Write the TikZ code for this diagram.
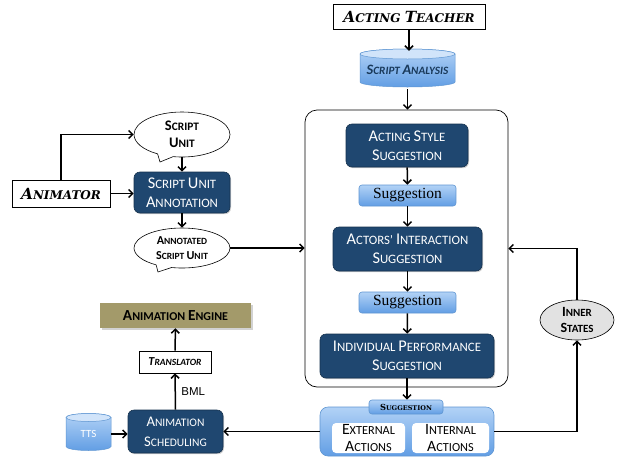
\documentclass[tikz,border=0pt]{standalone}
\usepackage{fontspec}
\usepackage{graphicx}
\setmainfont{Carlito}
\newfontfamily\heavyserif{DejaVu Serif}
\newfontfamily\sugfont{Liberation Serif}
\newfontfamily\arialfont{Liberation Sans}
\usetikzlibrary{arrows.meta,shapes.callouts,shapes.geometric,shadows,calc}
\newcommand\B[1]{\scalebox{1.28}{#1}}
\definecolor{navy}{RGB}{31,71,112}
\definecolor{lbtop}{RGB}{178,210,246}
\definecolor{lbbot}{RGB}{98,158,228}
\definecolor{lbdraw}{RGB}{95,150,210}
\definecolor{olivebox}{RGB}{163,154,106}
\definecolor{innergray}{RGB}{226,226,226}
\newcommand\cylshape[5]{%
  \shade[top color=lbtop, bottom color=lbbot, draw=lbdraw, line width=0.5pt]
    ({#1-#3},{#2-#4}) -- ({#1-#3},{#2+#4})
    arc[start angle=180, end angle=360, x radius=#3pt, y radius=#5pt]
    -- ({#1+#3},{#2-#4})
    arc[start angle=0, end angle=180, x radius=#3pt, y radius=#5pt] -- cycle;
  \draw[lbdraw, line width=0.5pt, fill=lbtop!60!white]
    ({#1-#3},{#2-#4})
    arc[start angle=180, end angle=360, x radius=#3pt, y radius=#5pt]
    arc[start angle=0, end angle=180, x radius=#3pt, y radius=#5pt];
}
\tikzset{
  arr/.style={-{Straight Barb[length=4pt,width=8pt]}, line width=1.5pt},
  navybox/.style={draw=navy!70!black, line width=0.6pt, fill=navy, rounded corners=6pt,
    text=white, align=center, inner sep=0pt, font=\fontsize{12.8}{19}\selectfont,
    drop shadow={opacity=0.35, shadow xshift=1pt, shadow yshift=-1.2pt}},
  lightbox/.style={draw=lbdraw, line width=0.6pt, top color=lbtop, bottom color=lbbot,
    rounded corners=3pt, inner sep=0pt},
  sugbox/.style={lightbox, minimum width=97pt, minimum height=21pt,
    font=\sugfont\fontsize{15.5}{17}\selectfont},
  heavybox/.style={draw, line width=0.6pt, fill=white, inner sep=0pt,
    font=\heavyserif\bfseries\itshape\fontsize{12}{14}\selectfont},
  bubble/.style={ellipse callout, draw, line width=0.6pt, fill=white, align=center,
    inner sep=0pt, callout pointer arc=20},
  whitebox/.style={fill=white, rounded corners=4pt, inner sep=0pt, align=center,
    font=\fontsize{12.3}{17}\selectfont}
}
\begin{document}
\begin{tikzpicture}[x=1pt,y=-1pt]
\fill[white] (0,0) rectangle (618,461);
\useasboundingbox (0,0) rectangle (618,461);

% frame
\node[draw, line width=0.7pt, rounded corners=12pt, minimum width=203pt, minimum height=277pt, inner sep=0pt] (frame) at (406.5,248.5) {};

% top
\node[heavybox, minimum width=152pt, minimum height=25pt] (teacher) at (409,16.5) {\B{A}CTING \B{T}EACHER};
\cylshape{407.5}{68}{47.5}{14}{5}
\node[minimum width=95pt, minimum height=38pt, inner sep=0pt, text=navy!80!black,
  font=\bfseries\itshape\fontsize{11.2}{13}\selectfont] (sa) at (407.5,70) {\B{S}CRIPT \B{A}NALYSIS};

% inside frame
\node[navybox, minimum width=122pt, minimum height=43pt] (style) at (407,145.5) {\B{A}CTING \B{S}TYLE\\\B{S}UGGESTION};
\node[sugbox] (sug1) at (407.5,195.5) {Suggestion};
\node[navybox, minimum width=149pt, minimum height=44pt] (inter) at (407.5,249) {\B{A}CTORS' \B{I}NTERACTION\\\B{S}UGGESTION};
\node[sugbox] (sug2) at (407.5,302.5) {Suggestion};
\node[navybox, minimum width=174pt, minimum height=44pt] (indiv) at (407,356) {\B{I}NDIVIDUAL \B{P}ERFORMANCE\\\B{S}UGGESTION};

% bottom suggestion group
\node[lightbox, rounded corners=8pt, minimum width=174pt, minimum height=49pt] (grp) at (407,431.5) {};
\node[lightbox, minimum width=74pt, minimum height=14pt,
  font=\heavyserif\bfseries\fontsize{6.5}{8}\selectfont] (tab) at (406,407) {\B{S}UGGESTION};
\node[whitebox, minimum width=73pt, minimum height=30pt] (ext) at (368.5,438) {\B{E}XTERNAL\\\B{A}CTIONS};
\node[whitebox, minimum width=77pt, minimum height=30pt] (int) at (450.5,438) {\B{I}NTERNAL\\\B{A}CTIONS};

% inner states
\node[ellipse, draw, line width=0.6pt, fill=innergray, minimum width=74pt, minimum height=40pt,
  inner sep=0pt, align=center, font=\bfseries\fontsize{11}{16}\selectfont] (inner) at (577,320) {\B{I}NNER\\\B{S}TATES};

% left side
\node[heavybox, minimum width=98pt, minimum height=27pt] (animator) at (61,193.5) {\B{A}NIMATOR};
\node[bubble, minimum width=96pt, minimum height=45pt, callout absolute pointer={(160,162)},
  font=\bfseries\fontsize{11.4}{16.7}\selectfont] (su) at (182,134.5) {\B{S}CRIPT\\\B{U}NIT};
\node[navybox, minimum width=96pt, minimum height=41pt] (annot) at (182,192.5) {\B{S}CRIPT \B{U}NIT\\\B{A}NNOTATION};
\node[bubble, minimum width=96pt, minimum height=40pt, callout absolute pointer={(158,272)},
  font=\bfseries\fontsize{9.5}{15}\selectfont] (asu) at (182,248) {\B{A}NNOTATED\\\B{S}CRIPT \B{U}NIT};

% bottom left
\node[fill=olivebox, minimum width=151pt, minimum height=25pt, inner sep=0pt,
  font=\bfseries\fontsize{12}{14}\selectfont,
  drop shadow={opacity=0.35, shadow xshift=1.5pt, shadow yshift=-1.5pt}] (engine) at (175.5,315.5) {\B{A}NIMATION \B{E}NGINE};
\node[draw, line width=0.6pt, fill=white, minimum width=72pt, minimum height=22pt, inner sep=0pt,
  font=\bfseries\itshape\fontsize{9.5}{11}\selectfont] (trans) at (175,362) {\B{T}RANSLATOR};
\node[navybox, minimum width=95pt, minimum height=43pt, font=\fontsize{11.5}{20}\selectfont] (sched) at (175.5,431.5) {\B{A}NIMATION\\\B{S}CHEDULING};
\cylshape{88.5}{432}{22.5}{14.5}{4}
\node[minimum width=45pt, minimum height=37pt, inner sep=0pt, text=white,
  font=\fontsize{11}{13}\selectfont] (tts) at (88.5,434) {TTS};

% connectors
\draw[arr] (teacher.south) -- (teacher.south |- sa.north);
\draw[arr] (sa.south) -- (sa.south |- frame.north);
\draw[arr] (style) -- (sug1);
\draw[arr] (sug1) -- (inter);
\draw[arr] (inter) -- (sug2);
\draw[arr] (sug2) -- (indiv);
\draw[arr] (indiv.south) -- (indiv.south |- tab.north);
\draw[arr] (grp.west) -- (sched.east);
\draw[arr] (grp.east) -| (inner.south);
\draw[arr] (inner.north) |- (frame.east);
\draw[arr] (animator.north) |- (su.west);
\draw[arr] (animator.east) -- (animator.east -| annot.west);
\draw[arr] (su.south) -- (annot.north);
\draw[arr] (annot.south) -- (asu.north);
\draw[arr] (asu.east) -- (asu.east -| frame.west);
\draw[arr] (sched.north) -- (trans.south) node[midway, right=2pt, font=\arialfont\fontsize{11.5}{13}\selectfont] {BML};
\draw[arr] (trans) -- (engine);
\draw[arr] (tts.east) -- (tts.east -| sched.west);
\end{tikzpicture}
\end{document}
